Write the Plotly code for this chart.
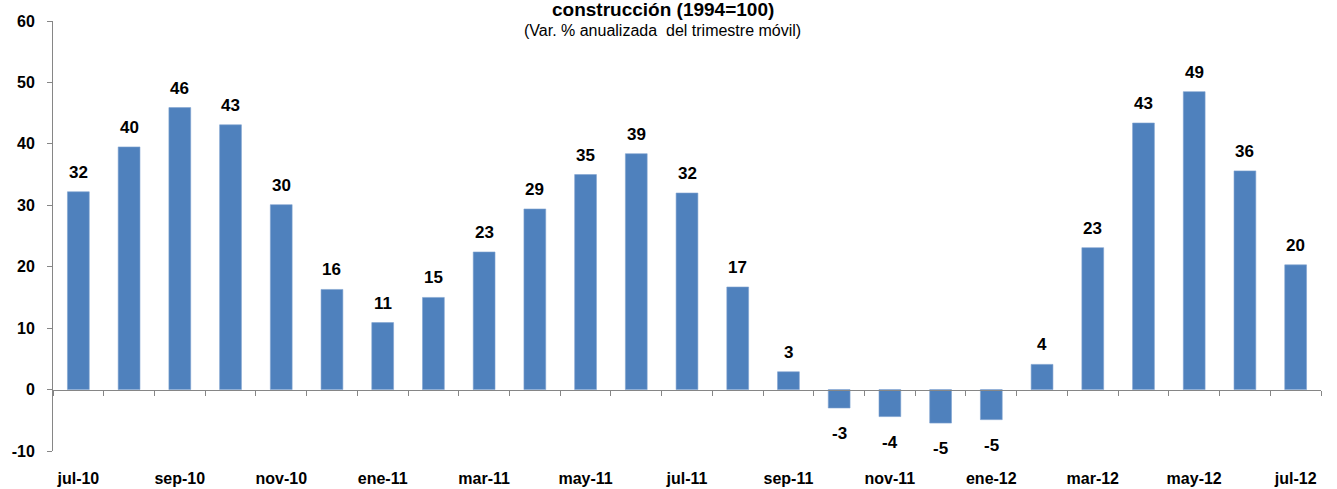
import plotly.graph_objects as go

categories = ["jul-10", "ago-10", "sep-10", "oct-10", "nov-10", "dic-10", "ene-11", "feb-11",
              "mar-11", "abr-11", "may-11", "jun-11", "jul-11", "ago-11", "sep-11", "oct-11",
              "nov-11", "dic-11", "ene-12", "feb-12", "mar-12", "abr-12", "may-12", "jun-12", "jul-12"]
values = [32.2, 39.5, 45.9, 43.1, 30.1, 16.3, 10.9, 15.0, 22.4, 29.4, 35.0, 38.4, 32.0, 16.7,
          2.9, -3.0, -4.4, -5.45, -4.9, 4.1, 23.1, 43.4, 48.5, 35.6, 20.3]
labels = ["32", "40", "46", "43", "30", "16", "11", "15", "23", "29", "35", "39", "32", "17",
          "3", "-3", "-4", "-5", "-5", "4", "23", "43", "49", "36", "20"]
shown_ticks = categories[::2]
y_ticks = [-10, 0, 10, 20, 30, 40, 50, 60]
y_tick_text = ["-10", "0", "10", "20", "30", "40", "50", "60"]

title_text = "construcción (1994=100)"
subtitle_text = "(Var. % anualizada  del trimestre móvil)"

FONT = "Liberation Sans, Arial, sans-serif"
AXIS_GRAY = "#868686"
BAR_BLUE = "#4F81BD"

fig = go.Figure()
fig.add_trace(go.Bar(x=categories, y=values, marker=dict(color=BAR_BLUE, line=dict(width=0.6, color="#7FA3D0")),
                     xaxis="x", yaxis="y", hoverinfo="x+y"))
fig.add_trace(go.Scatter(x=categories, y=[None] * len(categories), xaxis="x2", yaxis="y2",
                         mode="lines", showlegend=False, hoverinfo="skip"))

annotations = []
for c, v, t in zip(categories, values, labels):
    if v >= 0:
        annotations.append(dict(x=c, y=v, xref="x", yref="y", text=t, showarrow=False,
                                yanchor="bottom", yshift=8,
                                font=dict(family=FONT, size=17, color="black", weight="bold")))
    else:
        annotations.append(dict(x=c, y=v, xref="x", yref="y", text=t, showarrow=False,
                                yanchor="top", yshift=-14,
                                font=dict(family=FONT, size=17, color="black", weight="bold")))

annotations.append(dict(x=0.481, y=0.997, xref="paper", yref="paper", text=title_text,
                        showarrow=False, xanchor="center", yanchor="bottom",
                        font=dict(family=FONT, size=19, color="black", weight="bold")))
annotations.append(dict(x=0.481, y=0.977, xref="paper", yref="paper", text=subtitle_text,
                        showarrow=False, xanchor="center", yanchor="middle",
                        font=dict(family=FONT, size=16, color="black")))

zero_frac = 10 / 70

fig.update_layout(
    width=1337, height=489,
    margin=dict(l=53, r=16, t=21, b=38),
    paper_bgcolor="white", plot_bgcolor="rgba(0,0,0,0)",
    showlegend=False,
    bargap=0.57,
    font=dict(family=FONT, color="black"),
    annotations=annotations,
    xaxis=dict(type="category", categoryorder="array", categoryarray=categories,
               range=[-0.5, len(categories) - 0.5], automargin=False,
               tickmode="array", tickvals=shown_ticks, ticktext=shown_ticks,
               ticks="outside", ticklen=13, tickcolor="rgba(0,0,0,0)",
               showline=False, showgrid=False, zeroline=False,
               tickfont=dict(family=FONT, size=16, color="black", weight="bold")),
    yaxis=dict(range=[-10, 60], tickmode="array", tickvals=y_ticks, ticktext=y_tick_text,
               automargin=False,
               showline=True, linecolor=AXIS_GRAY, linewidth=1,
               ticks="outside", ticklen=5, tickcolor=AXIS_GRAY,
               showgrid=False, zeroline=False, ticklabelstandoff=9,
               tickfont=dict(family=FONT, size=16, color="black", weight="bold")),
    xaxis2=dict(type="category", categoryorder="array", categoryarray=categories,
                range=[-0.5, len(categories) - 0.5], overlaying="x", anchor="y2", automargin=False,
                tickson="boundaries", ticks="outside", ticklen=5, tickcolor=AXIS_GRAY,
                showticklabels=False, showline=True, linecolor=AXIS_GRAY, linewidth=1,
                showgrid=False, zeroline=False),
    yaxis2=dict(domain=[zero_frac, 1], anchor="x2", visible=False, range=[0, 60], automargin=False,
                showgrid=False, zeroline=False),
)

fig.write_html("out.html", config={"displayModeBar": False},
               post_script="document.body.style.margin='0';document.body.style.overflow='hidden';")
